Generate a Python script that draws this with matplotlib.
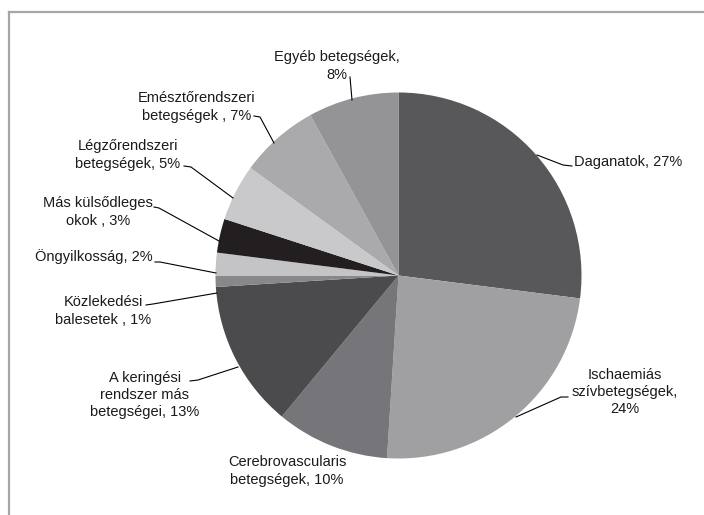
import matplotlib
matplotlib.use("Agg")
import matplotlib.pyplot as plt
from matplotlib.lines import Line2D

plt.rcParams['font.family'] = ['Liberation Sans', 'DejaVu Sans']

# Halálokok megoszlása (%)
labels = [
    "Daganatok, 27%",
    "Ischaemiás\nszívbetegségek,\n24%",
    "Cerebrovascularis\nbetegségek, 10%",
    "A keringési\nrendszer más\nbetegségei, 13%",
    "Közlekedési\nbalesetek , 1%",
    "Öngyilkosság, 2%",
    "Más külsődleges\nokok , 3%",
    "Légzőrendszeri\nbetegségek, 5%",
    "Emésztőrendszeri\nbetegségek , 7%",
    "Egyéb betegségek,\n8%",
]
shares = [27, 24, 10, 13, 1, 2, 3, 5, 7, 8]
colors = ["#58585a", "#a0a0a3", "#76767a", "#4b4b4d", "#88888b",
          "#c4c4c6", "#231f20", "#c9c9cb", "#aaaaac", "#949497"]

# label centres and leader lines in pixel coords (from top-left)
label_xy = [(628, 162), (625, 392), (287, 471), (145, 395), (103, 311),
            (94, 257), (98, 212), (128, 155), (197, 107), (337, 66)]
leaders = [
    [(572, 166), (563, 165), (537, 155)],
    [(568, 397), (561, 397), (516, 417)],
    None,
    [(190, 381), (198, 380), (238, 367)],
    [(146, 305), (153, 304), (217, 293)],
    [(155, 262), (160, 262), (216, 273)],
    [(154, 207), (159, 208), (219, 241)],
    [(184, 166), (191, 167), (233, 198)],
    [(254, 116), (260, 117), (274, 143)],
    [(350, 77), (352, 100)],
]

W, H = 704, 515
fig = plt.figure(figsize=(W / 100, H / 100), dpi=100)

cx, cy, r = 398.5, 275.5, 183
ax = fig.add_axes([(cx - r) / W, (H - cy - r) / H, 2 * r / W, 2 * r / H])
ax.pie(shares, colors=colors, startangle=90, counterclock=False,
       wedgeprops=dict(linewidth=0))
ax.set_xlim(-1, 1)
ax.set_ylim(-1, 1)
ax.set_aspect("equal")
ax.axis("off")

for lab, (x, y) in zip(labels, label_xy):
    fig.text(x / W, 1 - y / H, lab, ha="center", va="center",
             multialignment="center", fontsize=10.5, linespacing=1.3,
             color="#1a1a1a")

for pts in leaders:
    if pts is None:
        continue
    xs = [p[0] / W for p in pts]
    ys = [1 - p[1] / H for p in pts]
    fig.add_artist(Line2D(xs, ys, color="black", lw=0.8))

# chart frame (only top and left edges visible)
fig.add_artist(Line2D([8.5 / W, 1], [1 - 11.5 / H, 1 - 11.5 / H],
                      color="#a6a6a6", lw=1.6))
fig.add_artist(Line2D([8.5 / W, 8.5 / W], [0, 1 - 11.5 / H],
                      color="#a6a6a6", lw=1.6))

fig.savefig("out.png", dpi=100, facecolor="white")
